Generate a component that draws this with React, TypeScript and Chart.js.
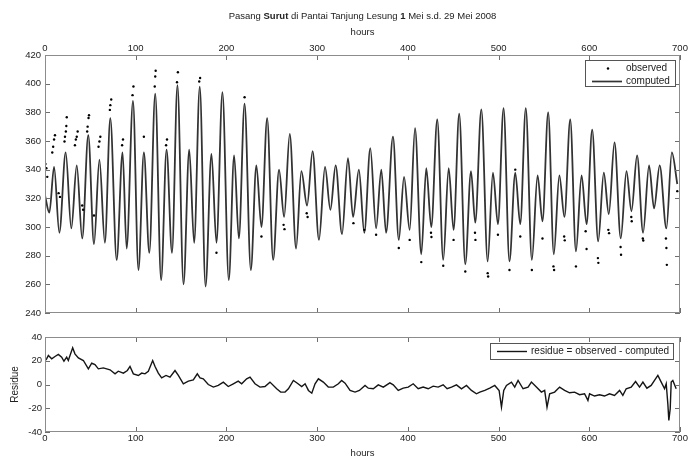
import React, { useEffect, useRef } from "react";
import { Chart, registerables } from "chart.js";

Chart.register(...registerables);

const FONT = '"Liberation Sans", Arial, Helvetica, sans-serif';
const TITLE_PARTS: [string, boolean][] = [
  ["Pasang ", false],
  ["Surut", true],
  [" di Pantai Tanjung Lesung ", false],
  ["1", true],
  [" Mei s.d. 29 Mei 2008", false],
];
const X_LABEL = "hours";
const Y2_LABEL = "Residue";
const X_MIN = 0;
const X_MAX = 700;
const X_STEP = 100;
const LEVEL_MIN = 240;
const LEVEL_MAX = 420;
const LEVEL_STEP = 20;
const RES_MIN = -40;
const RES_MAX = 40;
const RES_STEP = 20;

// computed tide: turning points (hour, level)
const computedHours = [
  0, 4.8, 10, 15.8, 22.8, 29, 35, 41, 47.7, 54, 60, 66, 72, 79, 85.5, 90, 97, 103, 109, 115,
  121.5, 128, 134, 140, 146, 152.7, 159, 164.4, 170.6, 177, 183.5, 189, 195.6, 202.6, 208.5,
  213.7, 220, 226.9, 233, 238.6, 244.9, 251.5, 258, 263.6, 269.8, 276.8, 282.6, 288.9, 295,
  302, 308.7, 314.6, 320.4, 327.4, 334, 339.6, 346, 352, 358.6, 365, 370.7, 376, 383.6, 390,
  395.8, 402, 407.9, 414.8, 420.3, 425.8, 432.4, 439, 445, 450.4, 456.6, 463.3, 469.6, 474.3,
  481, 488, 493.8, 499.3, 505.5, 512, 518.4, 523.9, 530, 536.7, 543, 548.4, 554.7, 560.9, 567,
  572.6, 579, 585.3, 591.5, 597, 603.2, 609.8, 616, 621.5, 627.8, 634.7, 641, 646.5, 652.7,
  659.3, 665.9, 671.4, 677.6, 685, 691, 697,
];
const computedLevels = [
  322, 310, 342, 296, 352, 299, 343, 292, 364, 288, 347, 289, 376, 277, 352, 285, 388, 270, 352, 282,
  393, 263, 354, 282, 399, 260, 354, 289, 398, 258.5, 351, 289, 394, 263, 350,
  292, 386, 270, 343, 300, 376, 277, 340, 307, 365, 285, 339, 315, 353,
  291, 342, 312, 343, 295, 348, 307, 340, 296, 355, 299, 340, 296, 363, 291,
  335, 298, 369, 281, 341, 300, 375, 277, 341, 298, 379, 274, 339, 303,
  382, 276, 338, 302, 383, 276, 338, 302, 383, 277, 336, 304, 380, 281, 336,
  307, 375, 283, 336, 302, 368, 290, 338, 309, 359, 292, 339, 311, 350,
  296, 343, 313, 343, 299, 352, 330,
];

// observed points that stand apart from the computed curve
const observedHours = [
  0.5, 1.5, 2.5, 8, 9, 10, 11, 15, 16.5, 21.5, 22, 23, 23.5, 24, 33, 34, 35, 36, 41, 42,
  46.5, 47, 48, 48.5, 54, 59, 60, 61, 71.5, 72, 73, 85, 86, 96.5, 97.5, 109, 121, 121.5, 122,
  133.5, 134.5, 145.5, 146.5, 170, 171, 189, 220, 238.6, 263, 264, 288.5, 289.5, 340, 352,
  365, 390, 402, 414.8, 425.5, 426, 439, 450.4, 463.3, 474, 474.5, 488, 488.5, 499.3, 512,
  518.4, 523.9, 536.7, 548.4, 560.5, 561.2, 572.3, 573, 585.3, 596, 597, 609.5, 610, 621,
  621.8, 634.5, 635, 646.3, 646.8, 659, 659.5, 684.5, 685, 685.5, 697,
];
const observedLevels = [
  344, 341, 335, 352, 356, 361, 364, 323.6, 321, 359.6, 363, 366.6, 370.5, 376.6, 357, 361, 363, 366.6, 315, 312,
  366.6, 370, 376, 378, 308, 356, 359.6, 363, 381.7, 385, 389, 357, 361, 392, 398, 363, 398, 405, 409,
  357, 361, 401, 408, 401.5, 404, 282, 390.5, 293.4, 301.5, 298.5, 309.6, 307, 302.7, 298,
  294.6, 285.3, 291, 275.5, 296, 293, 273, 291, 269, 296, 291, 267.8, 265.5, 294.6, 270,
  340, 293.4, 270, 292, 272.5, 270, 293.4, 290.7, 272.5, 297, 284.6, 278.3, 275, 298,
  295.7, 286, 280.6, 307, 304, 292, 290.6, 292, 285.3, 273.6, 325,
];

// residue = observed - computed
const residueHours = [
  0, 1.8, 3.7, 7.4, 11, 14.7, 18.4, 20.9, 23.9, 25.7, 30.5, 33, 36.8, 42.3, 47.8, 51.5, 55.1, 58.8,
  64.3, 71.7, 77.2, 80.8, 86.4, 90.8, 93.7, 97.4, 102.9, 106.6, 110.2, 113.9, 118.7, 121.3, 124.9,
  128.6, 133.4, 137.8, 143.3, 147, 152.5, 158, 163.5, 167.9, 170.9, 174.5, 180, 185.6, 191, 196.6,
  202, 207.6, 213, 216.8, 222.3, 226, 231.5, 237, 242.5, 248, 255.4, 259.8, 264.6, 268.3, 273.8,
  278.2, 283, 286.7, 290.4, 294.1, 297.7, 301.4, 306.8, 312.3, 317.8, 323.4, 327, 330.8, 336.3,
  341.8, 346.6, 352.8, 356.4, 361.9, 367.4, 372.9, 380.2, 383.9, 389.4, 394.9, 400.4, 405.9, 411.4,
  416.9, 422.4, 427.9, 433.4, 438.9, 443.3, 448.1, 453.6, 459.1, 464.6, 470.1, 475.6, 479.3, 484.8,
  490.3, 495.8, 500.6, 503.2, 505.7, 508.7, 514.2, 517.8, 521.5, 527, 532.5, 536.2, 541.7, 547.2,
  550.8, 553.4, 556.3, 561.8, 567.3, 572.8, 578.3, 583.8, 589.3, 594.8, 598.5, 600.3, 605.8, 611.3,
  616.8, 622.3, 627.8, 633.4, 637, 640.7, 646.2, 651, 655.4, 659.1, 663.5, 668.2, 671.9, 675.6,
  679.3, 683, 684.8, 686.6, 687.7, 689.2, 690.3, 692.1, 695.8,
];
const residueValues = [
  20, 21.6, 24.4, 21.6, 23.6, 25.3, 23, 19.6, 23, 20.2, 30.9, 25.8, 22.4, 20.2, 13.2, 17.9, 16.8, 13.2,
  14, 12.4, 9, 11.2, 9.6, 11.8, 15.2, 9, 7.6, 9.6, 9, 11.2, 20.2, 15.2, 9.6,
  5.6, 7.6, 6.2, 11.8, 7.6, 0.6, 2.8, 3.9, 9, 5.6, 4.8, 0, -2.2, -0.8, 2,
  -1.7, 0.6, 2.8, 0.6, 4.8, 6.2, 0.6, -2.2, -1.7, 2, -3.6, -6.4, -6.4, -3.6, 3.4,
  1.1, -1.7, 0.6, -5, -7.3, 0.6, 4.8, 2, -2.2, -2.2, 0.6, 3.4, 1.1, -5,
  -6.4, -5, -0.8, -3.1, -3.6, -0.3, -2.2, 1.4, -0.3, -5, -3.1, -2.2, 0.6, -3.6,
  -2.2, -3.6, -1.4, -2.2, -0.3, -3.6, -2.2, -0.3, -3.6, -0.8, -5, -7.8, -6.4, -5,
  -3.1, -0.8, -5, -19.1, -5, -0.8, 2, -2.2, 3.4, -3.6, -2.2, 2, -2.2, -6.4,
  -5, -19.1, -7.8, -6.4, -2.2, -5, -7, -6.4, -8.6, -7.8, -13.4, -7.8, -9.7, -8.6,
  -9.7, -7.8, -9.2, -5, -9.2, -3.6, -2.2, 2.5, -2.2, 2, -3.1, -0.8, 3.4, 7.6,
  2, -3.6, 0.6, -16.3, -30.3, -20.5, 2, 3.4, -3.6,
];

const toPoints = (xs: number[], ys: number[]) => xs.map((x, i) => ({ x, y: ys[i] }));

const TEXT = "#222";
const TICK_FONT = { family: FONT, size: 9.5 };

function framePlugin(tickLen: number) {
  return {
    id: "frame",
    afterDatasetsDraw(chart: any) {
      const { ctx, chartArea } = chart;
      const { left, right, top, bottom } = chartArea;
      const xs = chart.scales.x;
      const ys = chart.scales.y;
      ctx.save();
      ctx.strokeStyle = "#6e6e6e";
      ctx.lineWidth = 1;
      ctx.beginPath();
      for (const t of xs.ticks) {
        const p = Math.round(xs.getPixelForValue(t.value)) + 0.5;
        ctx.moveTo(p, top);
        ctx.lineTo(p, top + tickLen);
        ctx.moveTo(p, bottom);
        ctx.lineTo(p, bottom - tickLen);
      }
      for (const t of ys.ticks) {
        const p = Math.round(ys.getPixelForValue(t.value)) + 0.5;
        ctx.moveTo(left, p);
        ctx.lineTo(left + tickLen, p);
        ctx.moveTo(right, p);
        ctx.lineTo(right - tickLen, p);
      }
      ctx.stroke();
      ctx.strokeStyle = "#8c8c8c";
      ctx.strokeRect(
        Math.round(left) + 0.5,
        Math.round(top) + 0.5,
        Math.round(right - left) - 1,
        Math.round(bottom - top) - 1
      );
      ctx.restore();
    },
  };
}

const titlePlugin = {
  id: "mainTitle",
  afterDraw(chart: any) {
    const { ctx, chartArea } = chart;
    const cx = (chartArea.left + chartArea.right) / 2;
    ctx.save();
    ctx.fillStyle = TEXT;
    ctx.textBaseline = "middle";
    ctx.textAlign = "left";
    const fontOf = (b: boolean) => `${b ? "bold " : ""}9.5px ${FONT}`;
    let total = 0;
    for (const [t, b] of TITLE_PARTS) {
      ctx.font = fontOf(b);
      total += ctx.measureText(t).width;
    }
    let x = cx - total / 2;
    for (const [t, b] of TITLE_PARTS) {
      ctx.font = fontOf(b);
      ctx.fillText(t, x, 16);
      x += ctx.measureText(t).width;
    }
    ctx.restore();
  },
};

const topLegendPlugin = {
  id: "topLegend",
  afterDraw(chart: any) {
    const { ctx, chartArea } = chart;
    const { right, top } = chartArea;
    const obs = chart.data.datasets[0];
    const comp = chart.data.datasets[1];
    ctx.save();
    ctx.fillStyle = "#fff";
    ctx.fillRect(right - 95, top + 5, 91, 26);
    ctx.strokeStyle = "#555";
    ctx.lineWidth = 1;
    ctx.strokeRect(right - 94.5, top + 5.5, 90, 26);
    ctx.fillStyle = "#000";
    ctx.beginPath();
    ctx.arc(right - 72, top + 13.5, 1.2, 0, Math.PI * 2);
    ctx.fill();
    ctx.strokeStyle = comp.borderColor;
    ctx.lineWidth = 1.7;
    ctx.beginPath();
    ctx.moveTo(right - 88, top + 26.5);
    ctx.lineTo(right - 58, top + 26.5);
    ctx.stroke();
    ctx.fillStyle = TEXT;
    ctx.font = `10px ${FONT}`;
    ctx.textBaseline = "middle";
    ctx.textAlign = "left";
    ctx.fillText(obs.label, right - 54, top + 13.5);
    ctx.fillText(comp.label, right - 54, top + 26.5);
    ctx.restore();
  },
};

const bottomLegendPlugin = {
  id: "bottomLegend",
  afterDraw(chart: any) {
    const { ctx, chartArea } = chart;
    const { right, top } = chartArea;
    const ds = chart.data.datasets[0];
    ctx.save();
    ctx.fillStyle = "#fff";
    ctx.fillRect(right - 190, top + 6, 184, 16);
    ctx.strokeStyle = "#555";
    ctx.lineWidth = 1;
    ctx.strokeRect(right - 189.5, top + 6.5, 183, 16);
    ctx.strokeStyle = ds.borderColor;
    ctx.lineWidth = 1.4;
    ctx.beginPath();
    ctx.moveTo(right - 183, top + 14.5);
    ctx.lineTo(right - 153, top + 14.5);
    ctx.stroke();
    ctx.fillStyle = TEXT;
    ctx.font = `10px ${FONT}`;
    ctx.textBaseline = "middle";
    ctx.textAlign = "left";
    ctx.fillText(ds.label, right - 149, top + 14.5);
    ctx.restore();
  },
};

export default function App() {
  const topRef = useRef<HTMLCanvasElement>(null);
  const botRef = useRef<HTMLCanvasElement>(null);

  useEffect(() => {
    Chart.defaults.font.family = FONT;
    const top = new Chart(topRef.current as HTMLCanvasElement, {
      type: "line",
      data: {
        datasets: [
          {
            label: "observed",
            data: toPoints(observedHours, observedLevels),
            showLine: false,
            pointRadius: 1.2,
            pointBorderWidth: 0,
            pointBackgroundColor: "#000",
            borderColor: "#000",
            order: 0,
          },
          {
            label: "computed",
            data: toPoints(computedHours, computedLevels),
            borderColor: "#333333",
            borderWidth: 1.8,
            pointRadius: 0,
            cubicInterpolationMode: "monotone",
            fill: false,
            order: 1,
          },
        ],
      } as any,
      options: {
        responsive: false,
        animation: false,
        events: [],
        layout: { padding: { top: 0, left: 0, right: 9, bottom: 9 } },
        plugins: { legend: { display: false }, tooltip: { enabled: false }, title: { display: false } },
        scales: {
          x: {
            type: "linear",
            position: "top",
            min: X_MIN,
            max: X_MAX,
            ticks: { stepSize: X_STEP, font: TICK_FONT, color: TEXT, padding: 1, maxRotation: 0 },
            grid: { display: false, drawTicks: false },
            border: { display: false },
            title: { display: true, text: X_LABEL, font: TICK_FONT, color: TEXT, padding: { top: 27, bottom: 0 } },
            afterFit: (s: any) => {
              s.height = 55;
              s.paddingLeft = 0;
              s.paddingRight = 0;
            },
          },
          y: {
            type: "linear",
            min: LEVEL_MIN,
            max: LEVEL_MAX,
            ticks: { stepSize: LEVEL_STEP, font: TICK_FONT, color: TEXT, padding: 4 },
            grid: { display: false, drawTicks: false },
            border: { display: false },
            afterFit: (s: any) => {
              s.width = 45;
              s.paddingTop = 0;
              s.paddingBottom = 0;
            },
          },
        },
      } as any,
      plugins: [framePlugin(5), titlePlugin, topLegendPlugin],
    });

    const bottom = new Chart(botRef.current as HTMLCanvasElement, {
      type: "line",
      data: {
        datasets: [
          {
            label: "residue = observed - computed",
            data: toPoints(residueHours, residueValues),
            borderColor: "#151515",
            borderWidth: 1.4,
            pointRadius: 0,
            tension: 0,
            fill: false,
          },
        ],
      } as any,
      options: {
        responsive: false,
        animation: false,
        events: [],
        layout: { padding: { top: 15, left: 0, right: 9, bottom: 0 } },
        plugins: { legend: { display: false }, tooltip: { enabled: false }, title: { display: false } },
        scales: {
          x: {
            type: "linear",
            position: "bottom",
            min: X_MIN,
            max: X_MAX,
            ticks: { stepSize: X_STEP, font: TICK_FONT, color: TEXT, padding: 1, maxRotation: 0 },
            grid: { display: false, drawTicks: false },
            border: { display: false },
            title: { display: true, text: X_LABEL, font: TICK_FONT, color: TEXT, padding: { top: 0, bottom: 0 } },
            afterFit: (s: any) => {
              s.height = 27;
              s.paddingLeft = 0;
              s.paddingRight = 0;
            },
          },
          y: {
            type: "linear",
            min: RES_MIN,
            max: RES_MAX,
            ticks: { stepSize: RES_STEP, font: TICK_FONT, color: TEXT, padding: 3 },
            grid: { display: false, drawTicks: false },
            border: { display: false },
            title: { display: true, text: Y2_LABEL, font: { family: FONT, size: 10 }, color: TEXT, padding: { top: 9, bottom: 0 } },
            afterFit: (s: any) => {
              s.width = 45;
              s.paddingTop = 0;
              s.paddingBottom = 0;
            },
          },
        },
      } as any,
      plugins: [framePlugin(5), bottomLegendPlugin],
    });

    return () => {
      top.destroy();
      bottom.destroy();
    };
  }, []);

  return (
    <div style={{ position: "absolute", left: 0, top: 0, width: 689, height: 459, background: "#fff" }}>
      <canvas ref={topRef} width={689} height={322} style={{ position: "absolute", left: 0, top: 0, display: "block" }} />
      <canvas ref={botRef} width={689} height={137} style={{ position: "absolute", left: 0, top: 322, display: "block" }} />
    </div>
  );
}
